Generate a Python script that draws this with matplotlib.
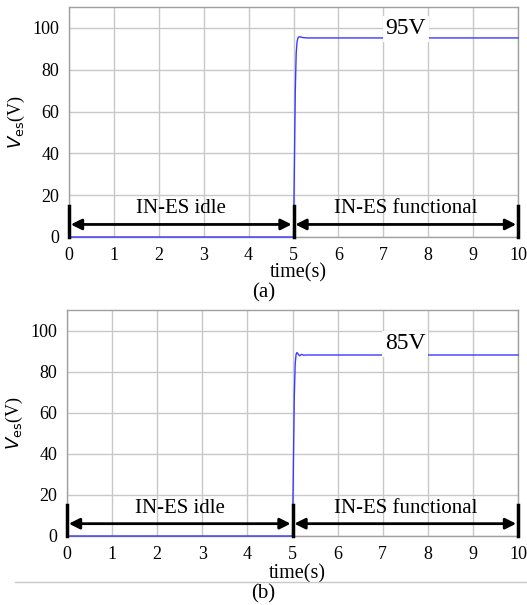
import matplotlib
matplotlib.use("Agg")
import matplotlib.pyplot as plt

plt.rcParams['font.family'] = ['Liberation Serif', 'DejaVu Serif']

# time (s) and capacitor voltage (V)
t_a = [0, 4.995, 5.0, 5.02, 5.04, 5.06, 5.08, 5.1, 5.13, 5.2, 5.3, 10]
v_a = [0, 0, 0, 35, 70, 88, 93.5, 95.3, 95.8, 95.4, 95.2, 95.2]
t_b = [0, 4.995, 5.0, 5.02, 5.04, 5.06, 5.08, 5.1, 5.13, 5.16, 5.2, 5.25, 5.3, 10]
v_b = [0, 0, 0, 35, 68, 84, 88.5, 89.3, 88.4, 87.7, 88.4, 88.0, 88.1, 88.1]

xticks = list(range(0, 11))
yticks = [0, 20, 40, 60, 80, 100]
labels = ["95V", "85V"]
label_y = [99.5, 93.5]
panels = ["(a)", "(b)"]
phases = ["IN-ES idle", "IN-ES functional"]

fig = plt.figure(figsize=(5.27, 6.05), dpi=100)
ax_a = fig.add_axes([69/527, 1-237/605, 449/527, 230/605])
ax_b = fig.add_axes([67/527, 1-536/605, 451/527, 226/605])

for ax, t, v, lab, ly, xl_y in [(ax_a, t_a, v_a, labels[0], label_y[0], -0.115),
                                (ax_b, t_b, v_b, labels[1], label_y[1], -0.125)]:
    ax.plot(t, v, color='#3b3bff', lw=1.0, zorder=3, clip_on=False)
    ax.set_xlim(0, 10)
    ax.set_ylim(0, 110)
    ax.set_xticks(xticks)
    ax.set_yticks(yticks)
    ax.grid(True, color='#c8c8c8', lw=1.0)
    ax.tick_params(length=0, labelsize=13, pad=7)
    for s in ax.spines.values():
        s.set_color('#a0a0a0')
        s.set_linewidth(1.0)
    ax.set_xlabel("time(s)", fontsize=14.5)
    ax.xaxis.set_label_coords(0.51, xl_y)
    ax.set_ylabel(r"$V_{\mathrm{es}}$(V)", fontsize=13, labelpad=4)
    # phase markers
    for xb in [0, 5, 10]:
        ax.plot([xb, xb], [0, 15], color='black', lw=2.5, zorder=4, clip_on=False)
    for x0, x1, txt in [(0, 5, phases[0]), (5, 10, phases[1])]:
        ax.annotate("", xy=(x0 + 0.04, 6), xytext=(x1 - 0.04, 6),
                    arrowprops=dict(arrowstyle='<|-|>', color='black', lw=2,
                                    mutation_scale=16, shrinkA=0, shrinkB=0),
                    zorder=4)
        ax.text((x0 + x1) / 2, 13.5, txt, ha='center', va='center', fontsize=15)
    ax.text(7.5, ly, lab, ha='center', va='center', fontsize=17,
            bbox=dict(facecolor='white', edgecolor='none', pad=2), zorder=5)

fig.text(0.5, 1-293/605, panels[0], ha='center', va='center', fontsize=15)
fig.text(0.5, 1-594/605, panels[1], ha='center', va='center', fontsize=15)
fig.add_artist(plt.Line2D([15/527, 527/527], [1-582/605, 1-582/605],
                          color='#c8c8c8', lw=1))

fig.savefig("out.png", dpi=100)
